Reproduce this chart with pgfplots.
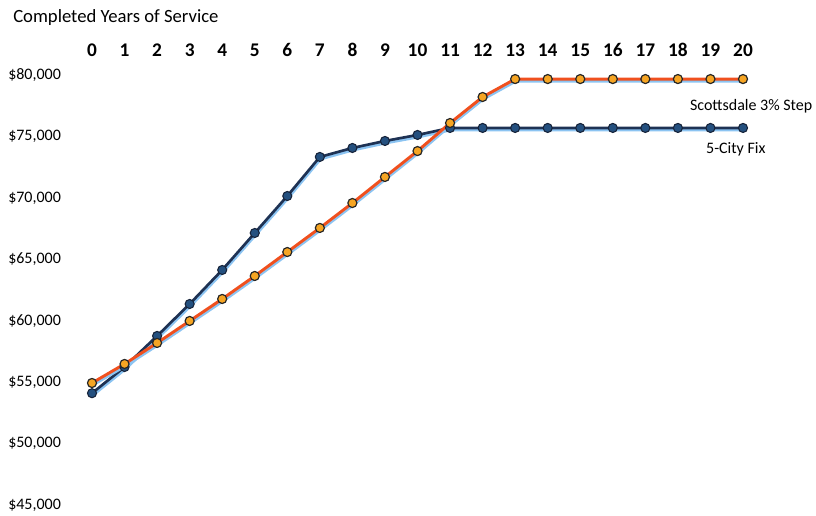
\documentclass[border=0pt]{standalone}
\usepackage{pgfplots}
\pgfplotsset{compat=1.18}
\usepackage{pgfplotstable}
\usepackage{fontspec}
\setmainfont{Carlito}
\definecolor{navyline}{HTML}{1E3254}
\definecolor{navymark}{HTML}{24507F}
\definecolor{navyedge}{HTML}{16233A}
\definecolor{orline}{HTML}{F0501E}
\definecolor{ormark}{HTML}{F6A523}
\definecolor{shadow}{HTML}{8CC4F2}
\pgfplotstableread{
yr fix
0 54100
1 56230
2 58760
3 61360
4 64130
5 67140
6 70150
7 73330
8 74060
9 74630
10 75120
11 75690
12 75690
13 75690
14 75690
15 75690
16 75690
17 75690
18 75690
19 75690
20 75690
}\fixdata
\pgfplotstableread{
yr step
0 54930
1 56480
2 58190
3 59980
4 61770
5 63640
6 65590
7 67550
8 69580
9 71700
10 73810
11 76090
12 78210
13 79670
14 79670
15 79670
16 79670
17 79670
18 79670
19 79670
20 79670
}\stepdata
\begin{document}
\begin{tikzpicture}
\useasboundingbox (-69pt,-8.25pt) rectangle (543pt,378.75pt);
\begin{axis}[
  at={(0,0)}, anchor=south west,
  scale only axis,
  width=488.25pt, height=322.5pt,
  xmin=0, xmax=20, ymin=45000, ymax=80000,
  clip=false,
  axis line style={draw=none},
  major tick style={draw=none},
  xtick={0,...,20},
  xticklabel pos=upper,
  xticklabel style={anchor=center, yshift=18.75pt, font=\fontsize{14.5}{16}\selectfont\bfseries, inner sep=0pt},
  scaled y ticks=false,
  ytick={45000,50000,...,80000},
  yticklabels={{\$45,000},{\$50,000},{\$55,000},{\$60,000},{\$65,000},{\$70,000},{\$75,000},{\$80,000}},
  yticklabel style={anchor=west, xshift=-63pt, inner sep=0pt, font=\fontsize{12}{14}\selectfont},
  /pgf/number format/assume math mode=true,
]
\addplot[shadow, line width=2pt, yshift=-1.6pt, xshift=0.6pt] table[x=yr,y=fix] {\fixdata};
\addplot[navyline, line width=2pt, mark=*, mark size=3.4pt, mark options={fill=navymark, draw=navyedge, line width=0.8pt}] table[x=yr,y=fix] {\fixdata};
\addplot[shadow, line width=2pt, yshift=-1.6pt, xshift=0.6pt] table[x=yr,y=step] {\stepdata};
\addplot[orline, line width=2.2pt, mark=*, mark size=3.4pt, mark options={fill=ormark, draw=black!85, line width=0.9pt}] table[x=yr,y=step] {\stepdata};
\node[font=\fontsize{12}{14}\selectfont] at (axis cs:20.25,77480) {Scottsdale 3\% Step};
\node[font=\fontsize{12}{14}\selectfont] at (axis cs:19.78,73980) {5-City Fix};
\end{axis}
\node[anchor=west, inner sep=0pt, font=\fontsize{14}{16}\selectfont] at (-59.25pt,365.25pt) {Completed Years of Service};
\end{tikzpicture}
\end{document}
